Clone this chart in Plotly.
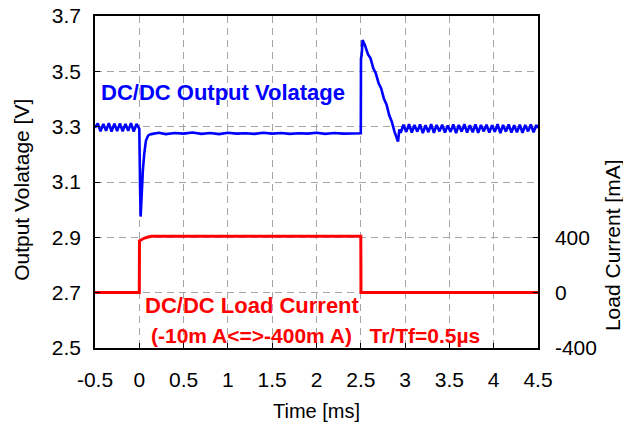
import plotly.graph_objects as go

# ---------------- data ----------------
# Output voltage [V] vs time [ms]
t_pre = [-0.500, -0.469, -0.438, -0.406, -0.375, -0.344, -0.313, -0.281, -0.250,
         -0.219, -0.188, -0.156, -0.125, -0.094, -0.063, -0.031, 0.000]
v_pre = [3.296, 3.312, 3.283, 3.310, 3.285, 3.313, 3.282, 3.311, 3.284,
         3.312, 3.283, 3.310, 3.285, 3.313, 3.282, 3.310, 3.292]

t_drop = [0.003, 0.010, 0.015, 0.022, 0.030, 0.040, 0.055, 0.075, 0.100, 0.120]
v_drop = [3.075, 3.060, 2.975, 3.030, 3.100, 3.140, 3.200, 3.250, 3.268, 3.272]

t_flat = [0.15, 0.22, 0.30, 0.40, 0.50, 0.60, 0.70, 0.80, 0.90, 1.00, 1.10, 1.20, 1.30,
          1.40, 1.50, 1.60, 1.70, 1.80, 1.90, 2.00, 2.10, 2.20, 2.30, 2.40, 2.50]
v_flat = [3.274, 3.278, 3.273, 3.277, 3.275, 3.279, 3.274, 3.277, 3.273, 3.278, 3.275, 3.276, 3.274,
          3.278, 3.275, 3.277, 3.274, 3.276, 3.275, 3.278, 3.274, 3.277, 3.275, 3.276, 3.276]

t_over = [2.502, 2.510, 2.520, 2.550, 2.580, 2.610, 2.640, 2.670, 2.700, 2.730,
          2.760, 2.790, 2.820, 2.850, 2.880, 2.900, 2.920, 2.935]
v_over = [3.545, 3.560, 3.613, 3.592, 3.562, 3.547, 3.512, 3.492, 3.458, 3.438,
          3.402, 3.380, 3.342, 3.318, 3.282, 3.264, 3.246, 3.290]

t_post = [2.950, 2.981, 3.013, 3.044, 3.075, 3.106, 3.138, 3.169, 3.200, 3.231,
          3.263, 3.294, 3.325, 3.356, 3.388, 3.419, 3.450, 3.481, 3.513, 3.544,
          3.575, 3.606, 3.638, 3.669, 3.700, 3.731, 3.763, 3.794, 3.825, 3.856,
          3.888, 3.919, 3.950, 3.981, 4.013, 4.044, 4.075, 4.106, 4.138, 4.169,
          4.200, 4.231, 4.263, 4.294, 4.325, 4.356, 4.388, 4.419, 4.450, 4.481,
          4.500]
v_post = [3.278, 3.307, 3.281, 3.309, 3.279, 3.306, 3.282, 3.308, 3.277, 3.305,
          3.280, 3.309, 3.278, 3.306, 3.283, 3.307, 3.279, 3.304, 3.281, 3.308,
          3.277, 3.306, 3.282, 3.309, 3.279, 3.305, 3.280, 3.308, 3.278, 3.306,
          3.283, 3.307, 3.279, 3.305, 3.281, 3.309, 3.277, 3.306, 3.282, 3.308,
          3.279, 3.305, 3.280, 3.307, 3.278, 3.306, 3.283, 3.308, 3.280, 3.306,
          3.295]

# Load current [mA] vs time [ms]
t_cur = [-0.50, -0.20, -0.10, 0.000, 0.002, 0.030, 0.060, 0.100, 0.140, 2.500, 2.502, 4.50]
i_cur = [2, 0, 4, 2, 375, 385, 395, 402, 408, 408, 2, 2]

x_ticks = [-0.5, 0, 0.5, 1, 1.5, 2, 2.5, 3, 3.5, 4, 4.5]
y_ticks = [2.5, 2.7, 2.9, 3.1, 3.3, 3.5, 3.7]
y2_ticks = [-400, 0, 400]

t_volt = t_pre + t_drop + t_flat + t_over + t_post
v_volt = v_pre + v_drop + v_flat + v_over + v_post

FONT = "Liberation Sans, Arial, sans-serif"
BLUE = "#0000ff"
RED = "#ff0000"

fig = go.Figure()
fig.add_trace(go.Scatter(x=t_cur, y=i_cur, mode="lines", yaxis="y2",
                         line=dict(color=RED, width=3), showlegend=False))
fig.add_trace(go.Scatter(x=t_volt, y=v_volt, mode="lines",
                         line=dict(color=BLUE, width=2.6), showlegend=False))

grid = dict(showgrid=True, gridcolor="#a6a6a6", gridwidth=1, griddash="7px,5px")

fig.update_layout(
    width=623, height=420,
    margin=dict(l=87, r=93, t=8, b=80, autoexpand=False),
    paper_bgcolor="white", plot_bgcolor="white",
    font=dict(family=FONT, size=21, color="black"),
    xaxis=dict(range=[-0.5, 4.5], tickvals=x_ticks, ticktext=[str(v) for v in x_ticks],
               ticks="inside", ticklen=5, tickcolor="black", automargin=False,
               showline=True, linecolor="black", linewidth=1.5, mirror=True,
               zeroline=False, ticklabelstandoff=12, ticklabeloverflow="allow", **grid),
    yaxis=dict(range=[2.5, 3.7], tickvals=y_ticks, ticktext=["%.1f" % v for v in y_ticks],
               ticks="inside", ticklen=5, tickcolor="black", automargin=False,
               showline=True, linecolor="black", linewidth=1.5,
               zeroline=False, ticklabelstandoff=8, ticklabeloverflow="allow", **grid),
    yaxis2=dict(range=[-400, 2000], tickvals=y2_ticks, ticktext=[str(v) for v in y2_ticks],
                overlaying="y", side="right", ticks="inside", ticklen=5, tickcolor="black",
                automargin=False, ticklabeloverflow="allow",
                showline=True, linecolor="black", linewidth=1.5,
                showgrid=False, zeroline=False, ticklabelstandoff=11),
)

annos = [
    dict(text="DC/DC Output Volatage", x=-0.46, y=3.422, xref="x", yref="y",
         xanchor="left", yanchor="middle", font=dict(size=22, color=BLUE, family=FONT, weight="bold")),
    dict(text="DC/DC Load Current", x=0.04, y=2.652, xref="x", yref="y",
         xanchor="left", yanchor="middle", font=dict(size=22, color=RED, family=FONT, weight="bold")),
    dict(text="(-10m A<=>-400m A)\u00a0\u00a0\u00a0Tr/Tf=0.5µs", x=0.105, y=2.547, xref="x", yref="y",
         xanchor="left", yanchor="middle", font=dict(size=21, color=RED, family=FONT, weight="bold")),
    dict(text="Time [ms]", x=0.5, y=-0.19, xref="paper", yref="paper",
         xanchor="center", yanchor="middle", font=dict(size=20)),
    dict(text="Output Volatage [V]", x=-0.165, y=0.476, xref="paper", yref="paper",
         xanchor="center", yanchor="middle", textangle=-90, font=dict(size=21)),
    dict(text="Load Current [mA]", x=1.167, y=0.31, xref="paper", yref="paper",
         xanchor="center", yanchor="middle", textangle=-90, font=dict(size=21)),
]
for a in annos:
    a["showarrow"] = False
    fig.add_annotation(**a)

fig.write_html("out.html")
